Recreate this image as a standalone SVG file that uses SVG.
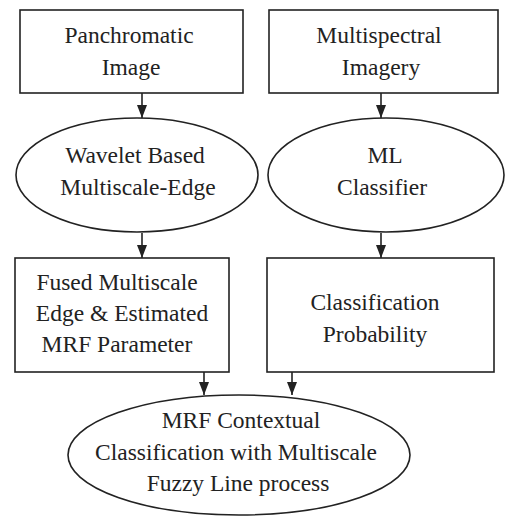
<svg xmlns="http://www.w3.org/2000/svg" width="505" height="518" viewBox="0 0 505 518">
<style>
.s{fill:#fff;stroke:#222;stroke-width:1.6}
.c{stroke:#222;stroke-width:1.6;fill:none;marker-end:url(#ah)}
text{font-family:"Liberation Serif","Times New Roman",serif;font-size:23.5px;fill:#222;text-anchor:middle}
</style>
<defs>
<marker id="ah" markerWidth="13" markerHeight="10" refX="13" refY="5" orient="auto" markerUnits="userSpaceOnUse" viewBox="0 0 13 10">
<path d="M0,0 L13,5 L0,10 Z" fill="#222"/>
</marker>
</defs>
<rect width="505" height="518" fill="#fff"/>
<g id="connectors">
<line class="c" x1="142" y1="93" x2="142" y2="118"/>
<line class="c" x1="381" y1="93" x2="381" y2="118"/>
<line class="c" x1="142" y1="233" x2="142" y2="258"/>
<line class="c" x1="381" y1="233" x2="381" y2="258"/>
<line class="c" x1="204" y1="372" x2="204" y2="395"/>
<line class="c" x1="292" y1="372" x2="292" y2="395"/>
</g>
<g id="panchromatic">
<rect class="s" x="20" y="10" width="223" height="83"/>
<text x="129" y="43">Panchromatic</text>
<text x="131" y="75">Image</text>
</g>
<g id="multispectral">
<rect class="s" x="269" y="10" width="229" height="83"/>
<text x="379" y="43">Multispectral</text>
<text x="381" y="75">Imagery</text>
</g>
<g id="wavelet">
<ellipse class="s" cx="137" cy="175" rx="121" ry="57"/>
<text x="135" y="163">Wavelet Based</text>
<text x="138" y="195">Multiscale-Edge</text>
</g>
<g id="ml">
<ellipse class="s" cx="386" cy="175" rx="118" ry="57"/>
<text x="385" y="163">ML</text>
<text x="382" y="195">Classifier</text>
</g>
<g id="fused">
<rect class="s" x="15" y="258" width="214" height="114"/>
<text x="117" y="290">Fused Multiscale</text>
<text x="122" y="321">Edge &amp; Estimated</text>
<text x="117" y="352">MRF Parameter</text>
</g>
<g id="probability">
<rect class="s" x="267" y="258" width="227" height="114"/>
<text x="375" y="310">Classification</text>
<text x="375" y="342">Probability</text>
</g>
<g id="mrf">
<ellipse class="s" cx="239" cy="455" rx="171" ry="60"/>
<text x="241" y="428">MRF Contextual</text>
<text x="236" y="460">Classification with Multiscale</text>
<text x="238" y="491">Fuzzy Line process</text>
</g>
</svg>
